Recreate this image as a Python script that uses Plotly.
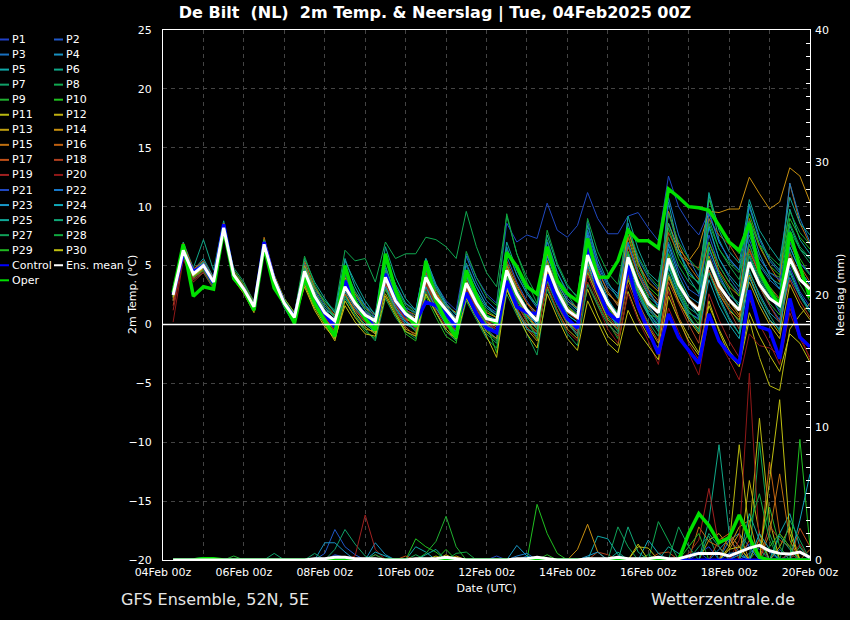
import plotly.graph_objects as go
import pandas as pd

# ---------------- time axis (6-hourly, 04Feb 06z .. 20Feb 00z) ----------------
times = pd.date_range("2025-02-04 06:00", periods=64, freq="6h")
tick_days = pd.date_range("2025-02-04", "2025-02-20", freq="D")
tick_labels = [d.strftime("%dFeb 00z") if i % 2 == 0 else "" for i, d in enumerate(tick_days)]

# ---------------- 2m temperature (°C) ----------------
P1 = [2.4,6.5,4.4,5.2, 3.8,8.3,4.1,2.9, 1.4,6.9,3.7,1.6, 0.4,4.8,2.5,1.1, 0.2,3.0,1.5,0.4, -0.4,3.6,1.8,0.6, 0.0,4.4,2.6,1.4, 0.6,4.2,2.0,0.4, -0.8,3.5,1.7,0.3, -1.0,4.4,2.2,0.5, -0.6,5.2,3.0,1.2, -0.2,4.6,2.3,0.8, -0.4,4.2,2.4,1.0, 0.5,6.1,4.0,2.5, 1.8,6.8,4.2,2.6, 1.0,4.9,2.8,1.5]
P2 = [2.8,6.1,4.2,4.8, 3.4,8.0,4.4,3.2, 1.7,6.6,3.9,2.0, 0.8,4.2,2.2,0.9, 0.5,2.8,1.9,1.0, 0.6,3.4,1.6,0.3, -0.5,3.2,1.8,0.9, 0.3,5.0,3.2,1.6, 1.0,5.8,3.6,2.0, 0.7,6.5,4.0,2.2, 1.4,7.8,4.8,2.8, 1.6,6.2,3.5,1.4, 0.2,7.0,4.6,3.0, 2.4,7.6,5.0,3.6, 2.6,5.8,3.2,1.6, 0.4,4.0,2.4,1.2]
P3 = [2.2,6.4,4.5,5.4, 3.9,8.4,4.0,2.8, 1.2,7.1,4.0,2.0, 0.9,5.2,3.0,1.6, 0.6,4.2,2.4,1.2, 0.5,4.8,2.6,1.3, 0.6,3.6,2.0,0.8, -0.6,2.4,0.8,-0.4, -1.2,3.8,2.0,0.6, 0.2,5.5,3.2,1.8, 1.0,8.8,5.0,3.2, 2.4,8.0,5.6,4.0, 3.0,9.6,6.4,4.4, 3.5,8.2,5.6,4.0, 2.8,7.2,5.0,3.8, 3.0,7.4,5.2,4.2]
P4 = [2.6,6.2,4.0,4.6, 3.2,7.9,4.5,3.3, 1.8,6.4,3.6,1.9, 0.7,4.0,2.0,0.7, -0.3,2.4,1.2,0.2, -0.8,3.0,1.3,0.0, -0.4,4.8,3.0,1.8, 0.8,3.0,1.2,-0.2, -0.6,4.2,2.4,0.9, 0.0,4.0,1.8,0.2, -0.8,6.8,3.9,1.6, 0.8,8.6,5.4,3.0, 1.4,6.4,3.8,2.0, 0.6,4.6,2.4,0.6, -0.8,4.4,2.6,1.0, 0.2,6.6,4.6,3.4]
P5 = [3.0,6.6,4.6,5.6, 4.0,8.6,4.3,3.1, 1.6,6.7,3.8,1.7, 0.3,4.4,2.6,1.2, 0.8,5.6,3.2,1.6, 0.9,5.0,2.4,0.8, 0.2,4.6,2.6,1.0, -0.2,4.0,2.2,0.8, 0.4,5.2,3.0,1.4, 0.6,6.0,3.4,1.6, 0.8,7.0,4.0,2.0, 0.4,6.8,4.2,2.4, 1.6,10.4,6.4,4.0, 2.6,8.4,5.6,4.2, 3.2,10.2,7.4,5.6, 4.6,9.8,7.2,6.0]
P6 = [2.0,7.0,4.8,7.2, 4.6,8.8,4.6,3.4, 2.0,6.2,3.4,1.4, 0.0,3.6,1.6,0.2, -0.6,2.2,1.0,0.0, -0.6,4.4,2.4,0.8, 0.0,3.8,2.0,0.6, -0.4,3.0,1.4,0.0, -0.6,4.6,2.6,1.0, 0.2,4.8,2.4,0.8, 0.2,5.6,3.0,1.0, -0.2,5.4,3.0,1.0, 0.0,5.0,2.8,1.0, 0.4,11.0,7.2,5.4, 4.6,7.6,5.2,4.0, 3.4,8.4,6.4,5.6]
P7 = [2.7,6.0,3.8,4.4, 3.0,7.8,4.8,3.6, 1.9,6.5,3.5,1.6, 0.5,5.0,3.2,2.0, 1.0,4.6,2.6,1.2, 0.2,4.4,2.4,1.4, 1.0,3.0,1.4,0.2, -0.8,2.2,0.6,-0.8, -1.6,3.0,1.2,0.0, -0.8,3.6,1.6,0.0, -0.4,4.6,2.4,0.6, -0.6,4.0,1.8,0.2, -1.0,6.0,3.6,2.0, 1.0,5.0,3.0,1.4, 0.2,4.6,2.4,0.8, -0.6,6.2,4.0,2.8]
P8 = [2.3,6.2,4.3,5.1, 3.7,8.1,4.0,2.8, 1.3,6.9,4.0,2.2, 1.0,4.9,3.0,2.0, 1.2,6.3,5.4,5.6, 3.6,7.0,5.6,6.0, 6.0,7.4,7.2,6.6, 5.6,9.6,6.6,4.4, 3.2,9.2,6.0,4.0, 2.4,7.2,4.4,2.6, 1.2,6.4,3.6,1.8, 0.6,6.0,3.6,2.0, 1.4,7.4,5.0,3.6, 2.8,9.0,6.4,5.0, 3.8,8.0,5.6,4.4, 4.0,8.6,6.6,5.6]
P9 = [2.5,6.8,4.6,5.3, 3.5,8.0,4.2,3.0, 1.6,6.6,3.9,1.8, 0.6,4.6,2.2,0.6, -1.0,2.0,0.6,-0.6, -1.2,3.2,1.4,0.2, -0.6,3.4,1.6,0.0, -1.4,2.8,1.0,-0.6, -1.4,5.0,3.0,1.4, 0.4,4.6,2.4,0.6, -0.4,3.6,1.8,0.2, -1.2,4.4,2.6,0.8, 0.6,5.0,3.0,1.2, 0.0,6.4,4.4,3.0, 1.4,5.0,3.2,1.8, 0.8,5.2,3.4,2.0]
P10 = [2.9,6.6,4.1,4.7, 3.3,8.3,4.4,3.1, 1.5,6.3,3.3,1.5, 0.2,3.8,2.0,0.8, 0.4,3.4,1.8,0.4, -0.2,5.6,3.4,1.8, 1.0,5.2,3.2,1.6, 0.4,4.4,2.6,1.2, 0.6,6.4,4.2,2.6, 1.6,5.4,3.0,1.4, 0.8,6.2,3.8,2.0, 1.0,7.6,5.0,3.2, 2.4,8.2,5.6,4.2, 3.6,10.6,8.4,7.0, 6.0,9.4,6.8,5.0, 4.2,9.0,7.4,6.4]
P11 = [2.1,6.0,4.4,4.9, 3.6,7.8,3.8,2.6, 1.0,7.2,4.2,2.2, 1.0,4.2,2.0,0.4, -0.4,2.6,1.0,-0.2, -0.8,4.2,2.2,0.6, -0.2,2.6,1.0,-0.6, -1.2,3.2,1.4,-0.2, -0.8,3.6,1.8,0.2, -0.6,4.2,2.0,0.2, -0.6,3.0,0.8,-1.0, -1.8,2.8,0.6,-1.0, -2.0,3.2,0.6,-1.0, -2.4,2.0,-0.6,-2.6, -3.6,0.4,-2.8,-5.2, -5.6,-0.4,0.8,1.8]
P12 = [2.6,6.4,4.2,4.8, 3.4,8.1,4.3,3.2, 1.7,6.8,3.6,1.6, 0.4,3.4,1.4,0.0, -1.4,2.0,0.6,-0.4, -0.6,3.8,1.8,0.4, 0.2,4.0,2.2,1.0, 0.0,3.6,1.6,0.2, -0.2,4.0,2.2,0.8, -0.4,3.2,1.2,-0.4, -1.2,5.2,3.0,1.4, 0.4,5.4,3.0,1.4, 0.6,4.2,2.0,0.4, -0.8,4.6,2.6,1.2, 0.4,3.6,1.6,0.0, -1.2,3.4,1.6,0.4]
P13 = [2.4,6.3,4.5,5.0, 3.8,8.4,4.1,2.9, 1.5,7.0,3.9,1.9, 0.7,5.0,2.8,1.4, 0.6,4.0,2.2,0.8, 0.0,2.6,1.0,-0.4, -0.8,3.4,1.8,0.4, 0.2,2.8,1.0,-0.6, -1.2,3.0,1.2,-0.4, -1.4,3.8,1.8,0.2, 0.0,4.4,2.4,0.4, -0.4,3.8,1.6,-0.2, -1.6,4.0,2.0,0.6, -0.4,5.8,3.6,2.0, 0.8,4.2,2.0,0.4, -0.8,5.6,3.8,2.8]
P14 = [2.7,6.2,4.3,5.0, 3.6,8.2,4.3,3.0, 1.5,6.7,3.8,1.9, 0.5,4.4,2.4,1.0, 0.4,3.4,2.0,1.0, 0.6,4.0,2.2,1.0, 0.4,4.2,2.6,1.6, 1.0,4.2,2.4,1.0, 0.6,5.0,3.2,1.8, 1.0,6.0,3.6,2.0, 1.4,6.4,4.0,2.6, 1.8,8.0,5.2,3.6, 2.8,8.6,6.4,5.4, 6.6,9.6,9.5,9.8, 9.8,12.5,11.1,9.8, 10.4,13.3,12.6,10.4]
P15 = [2.3,6.5,4.6,5.2, 3.9,8.5,4.0,2.8, 1.2,7.4,4.2,2.0, 0.8,5.4,3.2,1.8, 0.8,4.4,2.6,1.4, 0.8,3.8,2.0,1.0, 0.6,4.8,2.8,1.4, 0.4,3.8,2.0,0.8, 0.0,4.4,2.4,0.8, -0.2,5.4,3.2,1.6, 0.6,7.2,4.6,2.8, 1.6,7.4,4.6,3.0, 2.0,9.6,6.8,5.0, 3.8,7.0,4.6,3.2, 2.4,9.0,6.6,5.0, 3.6,12.0,8.6,6.8]
P16 = [2.5,6.1,4.0,4.7, 3.3,8.0,4.5,3.3, 1.8,6.5,3.5,1.7, 0.6,4.6,2.6,1.2, 0.0,2.6,1.2,0.2, -0.4,3.4,1.6,0.4, 0.4,4.4,2.6,1.4, -0.2,3.4,1.6,0.2, 0.2,4.8,2.8,1.2, 0.2,4.6,2.6,1.0, 0.4,6.0,3.6,1.6, 0.2,5.6,3.4,2.0, 1.2,5.8,3.6,2.2, 1.4,5.2,3.0,1.6, 0.6,6.4,4.2,2.8, 1.8,7.0,5.0,3.6]
P17 = [2.0,6.9,4.7,5.4, 3.9,8.6,4.2,2.9, 1.3,6.6,3.6,1.6, 0.4,4.0,2.0,0.6, -0.6,3.0,1.4,0.2, 0.4,4.6,2.6,1.2, 0.8,3.8,2.0,0.8, 0.6,2.6,1.0,-0.4, -0.6,5.4,3.4,1.8, 0.6,5.2,3.0,1.4, 0.4,5.8,3.2,1.2, 0.2,6.6,4.2,2.6, 1.8,7.8,6.0,5.2, 4.8,9.0,7.6,6.8, 5.4,6.2,4.4,3.2, 2.2,6.0,4.2,3.2]
P18 = [1.6,5.8,3.9,4.6, 3.4,7.9,4.4,3.2, 1.6,7.0,3.9,1.9, 0.9,4.2,2.2,0.6, -0.2,3.6,1.9,0.6, -0.2,3.0,1.2,-0.2, -1.0,3.6,1.8,0.4, -0.6,3.2,1.6,0.2, -0.4,3.4,1.4,-0.2, -1.2,4.0,1.8,0.0, -0.8,4.8,2.6,0.8, -0.4,4.2,2.0,0.0, -1.4,3.6,1.8,0.0, -1.6,4.6,2.8,1.2, -0.4,5.2,3.2,1.6, 0.2,3.8,2.0,0.6]
P19 = [1.2,5.6,3.6,4.4, 3.1,7.7,4.6,3.4, 1.9,6.6,3.7,1.8, 0.7,4.4,2.4,1.0, 0.2,3.2,1.6,0.6, 0.0,3.6,1.8,0.4, -0.4,3.0,1.2,-0.2, -0.8,3.0,1.4,0.0, -0.4,4.4,2.6,1.2, 0.4,4.4,2.2,0.4, -0.6,4.2,2.0,0.2, -1.0,3.4,1.2,-0.8, -2.6,2.8,0.6,-1.6, -3.0,2.6,0.4,-1.4, -2.8,2.2,0.0,-1.6, -3.4,1.0,-1.2,-2.8]
P20 = [0.2,5.5,3.8,4.5, 3.3,7.6,4.5,3.3, 1.7,6.4,3.6,1.7, 0.8,4.6,2.6,1.2, 0.4,3.0,1.4,0.2, -0.2,3.8,2.0,0.6, 0.2,3.4,1.6,0.2, -0.4,2.8,1.2,-0.2, -0.6,3.6,1.8,0.2, -0.8,3.4,1.2,-0.6, -1.4,3.6,1.6,-0.4, -1.6,2.6,0.4,-1.4, -3.4,1.4,-0.6,-2.4, -4.3,0.6,-1.4,-3.0, -4.7,-0.8,-1.8,-2.0, -2.6,1.4,-0.8,-3.0]
P21 = [2.6,6.4,4.2,4.9, 3.6,8.2,4.2,3.0, 1.5,6.9,3.9,1.9, 0.6,4.5,2.5,1.1, 0.2,3.4,2.0,1.0, 0.6,4.4,2.6,1.4, 1.0,5.6,3.4,2.0, 1.2,6.0,4.0,2.6, 1.8,8.6,7.0,7.6, 7.3,10.3,8.0,7.4, 8.4,11.2,9.0,7.7, 7.7,9.2,9.5,8.2, 7.1,12.6,10.0,8.6, 7.6,9.6,7.0,5.6, 4.6,8.0,5.6,4.4, 3.8,7.0,5.2,4.4]
P22 = [3.2,6.6,4.4,5.2, 3.8,8.3,4.1,3.0, 1.4,6.7,3.8,1.8, 0.4,4.6,2.6,1.2, 0.4,4.6,2.8,1.6, 0.6,5.6,3.4,1.8, 1.2,5.4,3.2,1.6, 0.4,5.8,3.6,2.0, 1.2,6.6,4.2,2.6, 1.4,7.0,4.4,2.8, 2.0,8.0,5.2,3.4, 2.6,7.0,4.4,2.8, 1.6,10.8,7.6,5.6, 4.0,9.4,7.0,5.6, 4.6,10.0,7.2,5.4, 4.4,12.0,9.0,7.0]
P23 = [2.8,6.4,4.3,5.0, 3.5,8.1,4.3,3.1, 1.6,6.8,3.7,1.7, 0.5,4.4,2.3,0.9, 0.0,3.6,2.0,0.8, 0.2,3.2,1.4,0.2, -0.2,4.2,2.4,1.0, 0.0,4.6,2.8,1.4, 0.8,4.6,2.6,1.0, 0.0,5.8,3.6,2.0, 1.2,7.6,4.4,2.2, 0.8,6.0,3.4,1.6, 0.4,6.8,4.2,2.4, 1.8,6.6,4.2,2.6, 1.6,8.8,6.0,4.2, 3.0,6.6,4.6,3.4]
P24 = [2.4,6.3,4.3,5.0, 3.7,8.2,4.2,3.0, 1.5,6.8,3.8,1.8, 0.6,4.3,2.4,1.0, 0.2,2.8,1.4,0.4, 0.4,4.2,2.2,0.8, 0.0,3.2,1.4,0.0, -0.6,4.2,2.4,0.8, 0.0,3.2,1.2,-0.4, -0.8,4.8,2.6,0.8, 0.2,5.0,2.8,1.0, 0.0,5.2,2.8,1.0, -0.2,4.8,2.6,0.6, -0.6,3.8,1.6,0.0, -1.2,4.0,2.0,0.4, -0.4,4.6,2.6,1.2]
P25 = [2.9,6.7,4.5,5.3, 3.8,8.4,4.1,2.9, 1.4,6.6,3.8,1.8, 0.6,5.6,3.6,2.2, 1.0,5.4,3.6,2.0, 0.8,6.6,4.0,2.2, 1.2,5.6,3.4,1.8, 0.8,5.2,3.2,1.6, 0.8,7.0,4.6,2.8, 1.6,7.6,5.0,3.2, 2.4,8.4,5.6,3.6, 2.2,9.2,6.4,4.4, 3.6,8.6,6.0,4.6, 3.4,11.2,8.0,6.2, 5.2,10.6,8.0,6.6, 5.4,10.8,8.6,7.6]
P26 = [2.5,6.2,4.2,4.9, 3.5,8.0,4.3,3.1, 1.6,6.9,3.8,1.8, 0.3,4.8,2.8,1.4, 0.6,3.8,2.2,0.8, 0.0,4.6,2.6,1.2, 0.4,4.0,2.2,0.8, -1.0,3.4,1.6,0.0, -0.8,4.0,2.2,0.6, -0.4,4.2,2.0,0.2, -1.0,5.4,3.2,1.2, 0.2,4.8,2.6,0.8, -0.6,5.2,3.2,1.4, 0.8,4.4,2.2,0.4, -0.8,5.8,3.8,2.4, 1.2,4.4,2.4,1.0]
P27 = [2.6,6.5,4.4,5.1, 3.6,8.2,4.2,3.0, 1.4,6.5,3.7,1.8, 0.5,3.8,1.8,0.4, -0.8,2.4,0.8,-0.4, -1.4,2.2,0.6,-0.6, -1.2,2.8,1.0,-0.6, -1.4,2.0,0.4,-1.2, -2.0,2.6,0.8,-0.8, -2.6,3.0,1.0,-0.8, -1.8,3.4,1.6,0.0, -0.8,4.6,2.8,1.2, 0.4,4.4,2.4,0.8, -0.6,5.6,3.8,2.6, 1.8,6.0,4.0,2.6, 1.4,8.0,6.4,5.2]
P28 = [2.7,6.3,4.2,4.8, 3.4,8.0,4.4,3.2, 1.7,7.2,4.1,2.1, 0.9,5.8,3.4,1.8, 0.6,4.8,2.8,1.4, 0.4,5.4,3.2,1.6, 0.8,5.0,3.0,1.4, 0.4,6.2,4.0,2.4, 1.6,9.4,6.0,3.6, 1.8,8.0,5.2,3.4, 2.2,9.0,6.2,4.4, 3.4,8.2,5.8,4.2, 3.2,9.4,7.0,5.6, 4.6,8.6,6.4,5.2, 4.4,8.8,6.8,5.8, 5.0,9.6,7.8,6.8]
P29 = [2.4,6.0,4.0,4.6, 3.2,7.9,4.6,3.4, 1.8,6.4,3.6,1.6, 0.2,4.0,1.8,0.2, -1.2,3.8,2.2,0.8, 0.2,3.0,1.0,-0.8, -1.4,2.4,0.6,-1.0, -1.6,3.6,1.8,0.0, -2.4,4.2,2.2,0.4, -1.2,5.2,3.2,1.6, 0.8,5.6,3.4,1.6, 0.0,6.2,3.8,2.2, 1.0,6.0,3.8,2.2, 1.0,7.0,5.0,3.6, 2.4,6.8,4.6,3.2, 2.0,7.6,5.6,4.2]
P30 = [2.3,6.1,4.1,4.8, 3.5,8.0,4.3,3.1, 1.5,6.6,3.6,1.6, 0.3,3.2,1.2,-0.2, -1.2,1.6,0.2,-0.8, -1.0,2.4,0.8,-0.6, -1.0,2.6,1.0,-0.4, -1.2,2.2,0.6,-1.0, -2.8,3.0,1.0,-0.8, -2.0,2.6,0.6,-1.2, -2.2,2.0,0.2,-1.6, -2.4,1.2,-0.6,-1.8, -3.0,2.4,0.4,-1.4, -2.6,1.6,-0.4,-2.2, -3.4,1.0,-1.0,-2.6, -4.0,-0.8,-1.6,-3.2]
control_t = [2.6,6.0,4.5,5.0, 3.5,8.5,4.0,3.0, 1.3,7.0,3.8,1.8, 0.6,4.2,2.2,0.9, -0.2,3.7,2.0,0.7, -0.3,4.3,2.0,0.8, 0.2,1.9,1.6,0.9, -0.2,2.7,0.9,-0.3, -0.7,3.7,1.5,1.0, 0.9,4.2,2.0,0.5, -0.3,6.5,3.0,1.0, 0.3,5.0,1.5,-0.5, -2.5,0.9,-1.1,-2.2, -3.3,0.9,-1.4,-2.5, -3.3,2.9,-0.2,-0.5, -2.9,2.2,-1.1,-1.9]
oper_t = [2.7,6.8,2.4,3.2, 3.0,8.1,3.9,2.9, 1.2,6.6,3.1,1.8, 0.1,4.0,1.8,0.3, -1.0,5.0,2.0,0.5, -0.5,6.0,2.9,1.0, -0.2,5.4,2.0,0.3, -1.1,4.6,2.5,0.6, 0.1,6.1,4.9,3.2, 2.6,6.6,3.7,2.6, 2.0,7.3,4.0,4.0, 5.4,8.0,7.1,7.1, 6.5,11.5,10.8,10.0, 9.9,9.7,8.4,7.0, 6.3,8.6,4.5,2.9, 1.6,7.8,4.9,2.3]
mean_t = [2.5,6.3,4.3,5.0, 3.6,8.2,4.2,3.0, 1.5,6.8,3.8,1.8, 0.6,4.5,2.4,1.0, 0.3,3.2,1.8,0.8, 0.3,4.0,2.0,0.9, 0.3,4.0,2.3,1.2, 0.2,3.5,1.8,0.5, 0.3,4.6,2.6,1.2, 0.3,5.0,2.8,1.2, 0.6,5.9,3.6,1.8, 0.6,5.7,3.4,1.8, 1.0,5.6,3.4,2.0, 1.2,5.4,3.3,2.1, 1.2,5.3,3.4,2.2, 1.6,5.6,3.8,3.0]

# ---------------- 6-hourly precipitation (mm) ----------------
R1 = [0,0,0,0, 0,0,0,0, 0,0,0,0, 0,0,0,0, 0.3,0.2,0,0, 0,0,0,0, 0,0,0,0, 0,0,0,0, 0,0,0,0, 0,0,0,0, 0,0,0,0, 0,0,0,0, 0,0,0,0, 0.5,1.0,0,0, 0.6,1.2,0.8,0, 0,0.4,0.6,0]
R2 = [0,0,0,0, 0,0,0,0, 0,0,0,0, 0,0,0,0.5, 2.3,1.0,0.4,0, 0,0,0,0, 0,0,0,0, 0,0,0,0, 0,0,0,0, 0,0,0,0, 0,0,0,0, 0,0,0,0, 0,0,0,0, 0,0,0,0, 0,0.5,1.2,0.6, 0,0,0,0]
R3 = [0,0,0,0, 0,0,0,0, 0,0,0,0, 0,0,0,0, 0,0,0,0, 0,0,0,0, 0,0,0,0, 0,0,0,0, 0,0,0,0.3, 0,0,0,0, 0,0,0,0, 0,0,0,0, 0,0,0,0, 0,0,0,1.5, 2.0,1.0,0,0, 0.8,0,0,0]
R4 = [0,0,0,0, 0,0,0,0, 0,0,0,0, 0,0,0,1.3, 1.3,0.6,0,0, 1.3,0.4,0,0, 0,0,0,0, 0,0,0,0, 0,0,0,0, 0,0,0,0, 0,0.2,0,0, 0,0,0,0, 0,0,0,0, 0,0,0.8,1.6, 0.6,0,0,0, 0,0,0,0]
R5 = [0,0,0,0, 0,0,0,0, 0,0,0,0, 0,0,0,0, 0,0,0,0, 0,0,0,0, 1.0,0.6,0,0, 0,0,0,0, 0,0,0,0, 0,0,0,0, 0,0,1.8,1.6, 0.4,0,0,0, 0,0,0,0, 0,0,0,0, 0,0,0,0, 2.0,3.5,1.0,0]
R6 = [0,0,0,0, 0,0,0,0, 0,0,0,0, 0,0,0,0, 0,0,0,0, 0,0,0,0, 0,0,0,0, 0,0,0,0, 0,0,0,0, 0,0,0,0, 0,0,0,0, 0.6,0,0,0, 0,0,0,0, 0,3.0,8.7,2.0, 1.0,0,0,0, 0,0.5,0,0]
R7 = [0,0,0,0, 0,0,0,0, 0,0,0.5,0, 0,0,0.5,0, 0.8,2.3,1.2,0.3, 0,0,0,0, 0,0,0,0, 0,0,0,0, 0,0,0,0, 0,0,0,0, 0,0,0,0, 0,0,0,0, 0,0,0,0, 1.0,1.8,0,0, 0,0,0,0, 0,0,0,0]
R8 = [0,0,0.1,0.2, 0,0,0,0, 0,0,0,0, 0,0,0,0, 0,0,0,0, 0,0,0,0, 0.4,0,0,0, 0,0,0,0, 0,0,0,0, 0,0,0,0, 0,0,0,0, 0,0,0,0, 2.9,1.5,0,0, 0,0,0,0, 0,0,8.9,2.0, 0,0,1.0,0]
R9 = [0,0,0,0, 0,0,0.3,0, 0,0,0,0, 0,0,0,0, 0,0,0,0, 0,0,0,0, 0,0.5,1.4,3.3, 1.0,0,0,0, 0,0,0,0, 0,0,0,0, 0,0,0,0, 0,0,0,0, 0,0,0,0, 0,0,0,0, 0,0,1.0,4.0, 1.0,0,0,0]
R10 = [0,0,0,0, 0,0,0,0, 0,0,0,0, 0,0,0,0, 0,0,0,0, 0,0,0,0, 1.6,1.0,0.6,0, 0,0,0,0, 0,0,0,0, 4.2,2.0,0.5,0, 0,0,0,0, 0,0,0,0, 0,0,0,0, 0,0,0,0, 0,0,0,0, 0,0,9.1,1.0]
R11 = [0,0,0,0, 0,0,0,0, 0,0,0,0, 0,0,0,0, 0,0,0,0, 0,0,0,0, 0,0,0.3,0, 0,0,0,0, 0,0,0,0, 0,0,0,0, 0,0,0,0, 0,0,1.0,0.9, 0,0,0,0, 0,0,0,1.0, 8.7,2.0,10.7,3.0, 0,0,0,0]
R12 = [0,0,0,0, 0,0,0,0, 0,0,0,0, 0,0,0,0, 0,0,0,0, 0,0,0,0, 0,0,0,0.4, 0,0,0,0, 0,0,0,0, 0,0,0,0, 0,0,0,0, 0,0,0,0, 0,0,0,0, 0,0,0,0, 0,6.0,2.0,0, 1.0,2.5,0,0]
R13 = [0,0,0,0, 0,0,0,0, 0,0,0,0, 0,0,0,0, 0,0,0,0, 0,0,0,0, 0,0,0,0, 0.3,0,0,0, 0,0,0,0, 0,0,0,0, 0,0,0,0, 0,0,0,0, 0,0,0,0, 0,1.5,2.0,1.0, 2.5,3.0,0,0, 0,0,0,0]
R14 = [0,0,0,0, 0,0,0,0, 0,0,0,0, 0,0,0,0, 0,0,0,0, 0,0,0,0, 0,0,0,0, 0,0,0,0, 0,0,0,0, 0,0,0,0, 0.8,2.7,0.6,0, 0,0,0,0, 0,0,0,0, 0,0,0,0.8, 2.0,0,1.6,0, 0,0,0,0]
R15 = [0,0,0,0, 0,0,0,0, 0,0,0,0, 0,0,0,0, 0,0,0,0, 0,0,0,0, 0,0,0,0, 0,0,0,0, 0,0,0,0, 0,0,0,0, 0,0,0,0, 0,0,0,0, 0,0,0,0, 2.5,1.4,1.0,0, 0,0,0,2.0, 6.5,1.5,0,0.8]
R16 = [0,0,0,0, 0,0,0,0, 0,0,0,0, 0,0,0,0, 0,0,0,0, 0,0,0,0, 0,0,0,0, 0.2,0,0,0, 0,0,0,0, 0,0,0,0, 0,0,0,0, 0,0,0,0, 0,0,0,0, 0,0,0,2.0, 1.0,0,0,7.4, 2.0,1.0,0,0]
R17 = [0,0,0,0, 0,0,0,0, 0,0,0,0, 0,0,0,0, 0,0,0,0, 0,0,0,0.3, 0,0,0,0, 0,0,0,0, 0,0,0,0, 0,0,0,0, 0,0,0,0, 0,0,0,0, 0.5,0.6,0,0, 0,0,1.5,2.0, 0,1.5,0,0, 0,0,2.4,1.0]
R18 = [0,0,0,0, 0,0,0,0, 0,0,0,0, 0,0,0,0, 0,0,0,0, 0.4,0,0,0, 0,0,0,0, 0,0,0,0, 0,0,0,0, 0,0,0,0, 0,0,0.6,0.4, 0,0,0,0, 0,0,0,0, 0,0,0,0, 1.0,2.0,0,2.6, 1.5,1.0,0,0]
R19 = [0,0,0,0, 0,0,0,0, 0,0,0,0, 0,0,0,0, 0,0,0.3,3.4, 0.8,0,0,0, 0,0,0,0, 0,0,0,0, 0,0,0,0, 0,0,0,0, 0,0,0,0, 0,0,0,0, 0,0,0,0.5, 1.5,5.4,1.0,0, 0,0,0,0, 0,0.5,0,0]
R20 = [0,0,0,0, 0,0,0,0, 0,0,0,0, 0,0,0,0, 0,0,0,0, 0,0,0,0, 0,0,0,0, 0,0,0,0, 0,0,0,0, 0,0,0,0, 0,0,0,0, 0,0,0,0, 0,0,0,0, 0,0,0,0, 1.5,14.1,1.0,0, 0,0,1.2,0]
R21 = [0,0,0,0, 0,0,0,0, 0,0,0,0, 0,0,0,0, 0.4,0.2,0,0, 0,0,0,0, 0,0,0,0, 0,0,0,0, 0.3,0,0,0, 0,0,0,0, 0,0,0,0, 0,0,0,0, 0,0,0,0.4, 0.6,0,0,0, 0,0,0,0, 0,0,0,0]
R22 = [0,0,0,0, 0,0,0,0, 0,0,0,0, 0,0,0,0, 0,0,0,0, 0,0,0,0, 0,0,0,0, 0,0,0,0, 0,0,0.3,0.5, 0,0,0,0, 0,0,0,0, 0,0,0,0, 0,0,0,0, 0,0,0,0.5, 0.6,1.0,0,0, 0,0,0,0]
R23 = [0,0,0,0, 0,0,0,0, 0,0,0,0, 0,0,0,0, 0,0,0,0, 0,0,0,0, 0,0,0,0, 0,0,0,0, 0,0,1.1,0.3, 0,0,0,0, 0,0.3,0.6,0, 0,0,0,0, 0,0,0,0, 0,0,0,0, 0.4,0,0,0, 0,0,0,0]
R24 = [0,0,0,0, 0,0,0,0, 0,0,0,0, 0,0,0,0, 0,0,0,0, 0.6,0.3,0,0, 0,0,0,0, 0,0,0,0, 0,0,0,0, 0,0,0,0, 0,0,0,0, 0,0,0,1.5, 0.5,0,0,0, 0,0,0,0, 0,0,2.0,0.8, 0,0,3.0,6.5]
R25 = [0,0,0,0, 0,0,0,0, 0,0,0,0, 0,0,0,0, 0,0,0,0, 0,0,0,0, 0,0.4,0.8,0, 0,0,0,0, 0,0,0,0, 0,0,0,0, 0,0,0,0, 0,0,0,0, 0,1.0,0.5,0, 0,0,0,0, 0,3.5,1.5,0, 0,0,0,0]
R26 = [0,0,0,0, 0,0,0,0, 0,0,0,0, 0,0,0,0, 0,0,0,0, 0,0,0,0, 0,0,0,0, 0,0,0,0, 0,0,0,0, 0,0,0,0, 0,0,0,0, 0,2.5,0.6,0, 0,0,0,0, 0,2.0,1.0,0, 0,0,0,0, 1.8,0.8,0,0]
R27 = [0,0,0,0, 0,0,0,0, 0,0,0,0, 0,0,0,0, 0,0,0,0, 0,0,0,0, 0,0,0,0, 0,0,0,0, 0,0,0,0, 0,0,0,0, 0,0,0,0, 2.5,1.0,0,0, 0,0,2.5,1.0, 0,0,0,0, 0,0,0,0, 0,3.0,1.5,0]
R28 = [0,0,0,0, 0,0,0,0, 0,0,0,0, 0,0,0,0, 0,0,0,0, 0.4,0,0,0, 0,0,0,0, 0.5,0.6,0,0, 0,0,0,0, 0,0,0,0, 0,0,0,0, 0,0,0,0.4, 0,0,0,0, 0,0,0,0, 0,2.5,5.0,1.5, 0,0,0,0]
R29 = [0,0,0,0, 0,0,0,0, 0,0,0,0, 0,0,0,0, 0,0,0,0, 0,0,0,0, 0,0,0,0.8, 0,0,0,0, 0,0,0,0, 0,0.4,0,0, 0,0,0,0, 0,0,0,0, 0,0,0,1.0, 2.0,0,0,0, 0,0,0,1.0, 2.0,1.0,0,0]
R30 = [0,0,0,0, 0,0,0,0, 0,0,0,0, 0,0,0,0, 0,0,0,0, 0,0,0,0, 0,0,0,0, 0,0,0,0, 0,0,0,0, 0,0,0,0, 0,0,0,0, 0,0,1.2,0, 0,0,0,0, 0,0,0,0.8, 1.0,0,0,6.0, 12.1,2.0,0,0]
control_r = [0,0,0,0, 0,0,0,0, 0,0,0,0, 0,0,0,0, 0,0,0,0, 0,0,0,0, 0,0,0,0, 0,0,0,0, 0,0,0,0, 0,0,0,0, 0,0,0,0, 0,0,0,0, 0,0,0,0, 0,0,0,0, 0,0,0,0, 0,0,0,0]
oper_r = [0,0,0,0.1, 0.1,0,0,0, 0,0,0,0, 0,0,0,0, 0,0,0,0, 0,0,0,0, 0,0,0,0, 0,0,0,0, 0,0,0,0, 0,0,0,0, 0,0,0,0, 0,0,0,0, 0,0,0,2.0, 3.5,2.6,1.3,1.7, 3.4,1.7,0.2,0, 0,0,0,0]
mean_r = [0,0,0,0, 0,0,0,0, 0,0,0,0, 0,0,0.1,0.1, 0.2,0.2,0.1,0.1, 0.1,0,0,0, 0.1,0.1,0.1,0.2, 0.1,0,0,0, 0,0,0.1,0.1, 0.2,0.1,0,0, 0,0.1,0.1,0.1, 0.2,0.1,0.1,0.1, 0.2,0.1,0.1,0.3, 0.5,0.5,0.5,0.3, 0.6,0.9,1.1,0.7, 0.5,0.45,0.6,0.2]

members_t = [P1,P2,P3,P4,P5,P6,P7,P8,P9,P10,P11,P12,P13,P14,P15,P16,P17,P18,P19,P20,
             P21,P22,P23,P24,P25,P26,P27,P28,P29,P30]
members_r = [R1,R2,R3,R4,R5,R6,R7,R8,R9,R10,R11,R12,R13,R14,R15,R16,R17,R18,R19,R20,
             R21,R22,R23,R24,R25,R26,R27,R28,R29,R30]
member_names = ["P%d" % k for k in range(1, 31)]
member_colors = ["#2040c8", "#2058c8", "#1870c0", "#1890c0", "#10a8a8", "#10a888",
                 "#10a068", "#10a850", "#20b030", "#20c020", "#b8b810", "#c0b010",
                 "#c0a010", "#c89010", "#c07010", "#c06010", "#c05018", "#b04020",
                 "#a02020", "#901818", "#2048c0", "#1878c8", "#1898c8", "#10a8b8",
                 "#10a898", "#10a878", "#10a058", "#10a840", "#20b820", "#c0c010"]

checks = list(zip(member_names, members_t)) + list(zip(["R" + n for n in member_names], members_r))
checks += [("control_t", control_t), ("oper_t", oper_t), ("mean_t", mean_t),
           ("control_r", control_r), ("oper_r", oper_r), ("mean_r", mean_r)]
bad = [(n, len(a)) for n, a in checks if len(a) != 64]
assert not bad, bad

fig = go.Figure()

# precipitation (right axis)
for name, col, r in zip(member_names, member_colors, members_r):
    fig.add_trace(go.Scatter(x=times, y=r, mode="lines", name=name, yaxis="y2",
                             line=dict(color=col, width=1), showlegend=False))
fig.add_trace(go.Scatter(x=times, y=control_r, mode="lines", yaxis="y2",
                         line=dict(color="#0000ff", width=3), showlegend=False))
fig.add_trace(go.Scatter(x=times, y=oper_r, mode="lines", yaxis="y2",
                         line=dict(color="#00e000", width=3.5), showlegend=False))
fig.add_trace(go.Scatter(x=times, y=mean_r, mode="lines", yaxis="y2",
                         line=dict(color="#ffffff", width=3), showlegend=False))

# temperature (left axis)
for name, col, t in zip(member_names, member_colors, members_t):
    fig.add_trace(go.Scatter(x=times, y=t, mode="lines", name=name, xaxis="x", yaxis="y",
                             line=dict(color=col, width=1), showlegend=False))
fig.add_trace(go.Scatter(x=times, y=control_t, mode="lines", name="Control",
                         line=dict(color="#0000ff", width=3.5), showlegend=False))
fig.add_trace(go.Scatter(x=times, y=oper_t, mode="lines", name="Oper",
                         line=dict(color="#00e000", width=3.5), showlegend=False))
fig.add_trace(go.Scatter(x=times, y=mean_t, mode="lines", name="Ens. mean",
                         line=dict(color="#ffffff", width=3), showlegend=False))

# page geometry: plot area sits at page px 163..810 x 30..560 (page body margin removed below)
W, H = 850, 620
PX0, PX1, PY0, PY1 = 163, 810, 30, 560
L, T = PX0, PY0
R, B = W - PX1, H - PY1
def xp(px):
    return (px - PX0) / (PX1 - PX0)
def yp(py):
    return (PY1 - py) / (PY1 - PY0)

# zero line
fig.add_shape(type="line", xref="paper", yref="y", x0=0, x1=1, y0=0, y1=0,
              line=dict(color="white", width=1.5), layer="above")

# legend (two columns, short line symbols)
left_col = member_names[0::2] + ["Control", "Oper"]
left_cols = member_colors[0::2] + ["#0000ff", "#00e000"]
right_col = member_names[1::2] + ["Ens. mean"]
right_cols = member_colors[1::2] + ["#ffffff"]
for col_x, names, cols in ((0, left_col, left_cols), (54, right_col, right_cols)):
    for r, (nm, c) in enumerate(zip(names, cols)):
        py = 39.5 + 15.05 * r
        fig.add_shape(type="line", xref="paper", yref="paper",
                      x0=xp(col_x), x1=xp(col_x + 9), y0=yp(py), y1=yp(py),
                      line=dict(color=c, width=2))
        fig.add_annotation(xref="paper", yref="paper", x=xp(col_x + 9.5), y=yp(py),
                           text=nm, showarrow=False, xanchor="left", yanchor="middle",
                           font=dict(size=11, color="white"))

# axis titles
fig.add_annotation(xref="paper", yref="paper", x=xp(132), y=yp(295), text="2m Temp. (°C)",
                   textangle=-90, showarrow=False, xanchor="center", yanchor="middle",
                   font=dict(size=11, color="white"))
fig.add_annotation(xref="paper", yref="paper", x=xp(840), y=yp(295), text="Neerslag (mm)",
                   textangle=-90, showarrow=False, xanchor="center", yanchor="middle",
                   font=dict(size=11, color="white"))

# footer texts
fig.add_annotation(xref="paper", yref="paper", x=xp(119), y=yp(599), text="GFS Ensemble, 52N, 5E",
                   showarrow=False, xanchor="left", yanchor="middle",
                   font=dict(size=16, color="#e6e6e6"))
fig.add_annotation(xref="paper", yref="paper", x=xp(649), y=yp(599), text="Wetterzentrale.de",
                   showarrow=False, xanchor="left", yanchor="middle",
                   font=dict(size=16, color="#e6e6e6"))

grid = dict(showgrid=True, gridcolor="#444444", griddash="4px,4px", gridwidth=1)

fig.update_layout(
    width=W, height=H,
    margin=dict(l=L, r=R, t=T, b=B, pad=0),
    paper_bgcolor="black", plot_bgcolor="black",
    font=dict(family="DejaVu Sans", color="white", size=11),
    showlegend=False,
    title=dict(text="<b>De Bilt  (NL)  2m Temp. & Neerslag | Tue, 04Feb2025 00Z</b>",
               x=435 / W, xanchor="center", y=1 - 12 / H, yanchor="middle",
               pad=dict(t=0, b=0), font=dict(size=16, color="white")),
    xaxis=dict(type="date", range=["2025-02-04 00:00", "2025-02-20 00:00"],
               tickvals=list(tick_days), ticktext=tick_labels, ticks="",
               showline=True, linecolor="white", linewidth=1, mirror=True,
               zeroline=False, tickfont=dict(size=11), ticklabelstandoff=2,
               title=dict(text="Date (UTC)", font=dict(size=11), standoff=6), **grid),
    yaxis=dict(range=[-20, 25], tickvals=list(range(-20, 26, 5)), ticks="",
               showline=True, linecolor="white", linewidth=1, mirror=True,
               zeroline=False, tickfont=dict(size=11), ticklabelstandoff=8, **grid),
    yaxis2=dict(range=[0, 40], tickvals=[0, 10, 20, 30, 40], overlaying="y", side="right",
                showgrid=False, zeroline=False, ticks="inside", ticklen=4, tickcolor="white",
                minor=dict(dtick=1, ticks="inside", ticklen=4, tickcolor="white", showgrid=False),
                tickfont=dict(size=11), ticklabelstandoff=4),
)

fig.write_html("out.html", config={"displayModeBar": False},
               post_script="document.body.style.margin='0';document.body.style.overflow='hidden';"
                           "document.body.style.background='black';")
